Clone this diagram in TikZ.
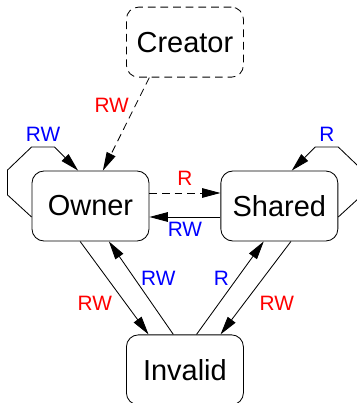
\documentclass[tikz,border=0pt]{standalone}
\usepackage{fontspec}
\setmainfont{Liberation Sans}
\usetikzlibrary{arrows.meta, positioning}
\definecolor{accred}{RGB}{255,0,0}
\definecolor{accblue}{RGB}{0,0,255}
\tikzset{
  statebox/.style = {draw, rounded corners=0.3cm, line width=0.6pt,
                     minimum width=2.925cm, minimum height=1.75cm,
                     font=\fontsize{20.6}{24}\selectfont},
  ghostbox/.style = {statebox, dash pattern=on 5.5pt off 3.5pt},
  arr/.style      = {-{Triangle[length=0.46cm, width=0.24cm]}, line width=0.6pt},
  darr/.style     = {arr, dash pattern=on 5.5pt off 3.5pt},
  lbl/.style      = {font=\fontsize{14.8}{17}\selectfont},
  rdlbl/.style    = {lbl, text=accred},
  bllbl/.style    = {lbl, text=accblue},
}

\begin{document}
\begin{tikzpicture}[node distance=1.775cm and 1.775cm]
  \useasboundingbox (-2.2625,5.15) rectangle (6.6625,-4.925);
  \clip (-2.2625,5.15) rectangle (6.6625,-4.925);

  \node[statebox] (owner) {Owner};
  \node[statebox, right=of owner] (shared) {Shared};

  % creator and invalid sit centred over / under the pair
  \path (owner.north) -- (shared.north) coordinate[midway] (topmid);
  \path (owner.south) -- (shared.south) coordinate[midway] (botmid);
  \node[ghostbox, above=2.325cm of topmid] (creator) {Creator};
  \node[statebox, below=2.325cm of botmid] (invalid) {Invalid};

  \draw[darr] ([xshift=-0.89cm]creator.south) -- ([xshift=0.31cm]owner.north)
        node[rdlbl, pos=0.3, left=1pt] {RW};

  % self loops
  \draw[arr] ([yshift=-0.275cm]owner.west) -- ++(-0.6,0.55) -- ++(0,0.625)
        -- ++(0.6,0.575) -- ++(0.575,0) node[bllbl, midway, above] {RW}
        -- ([xshift=-0.31cm]owner.north);
  \draw[arr] ([yshift=-0.275cm]shared.east) -- ++(0.6,0.55) -- ++(0,0.625)
        -- ++(-0.6,0.575) -- ++(-0.575,0) node[bllbl, midway, above] {R}
        -- ([xshift=0.31cm]shared.north);

  \draw[darr] ([yshift=0.325cm]owner.east) -- ([yshift=0.325cm]shared.west)
        node[rdlbl, midway, above=2pt] {R};
  \draw[arr] ([yshift=-0.275cm]shared.west) -- ([yshift=-0.275cm]owner.east)
        node[bllbl, midway, below] {RW};

  \draw[arr] ([xshift=-0.26cm]owner.south) -- ([xshift=-0.91cm]invalid.north)
        node[rdlbl, pos=0.67, left=0.22cm] {RW};
  \draw[arr] ([xshift=-0.29cm]invalid.north) -- ([xshift=0.46cm]owner.south)
        node[bllbl, pos=0.6, right=1pt] {RW};
  \draw[arr] ([xshift=0.29cm]invalid.north) -- ([xshift=-0.39cm]shared.south)
        node[bllbl, pos=0.6, left=2pt] {R};
  \draw[arr] ([xshift=0.29cm]shared.south) -- ([xshift=0.89cm]invalid.north)
        node[rdlbl, pos=0.67, right=0.27cm] {RW};
\end{tikzpicture}
\end{document}
